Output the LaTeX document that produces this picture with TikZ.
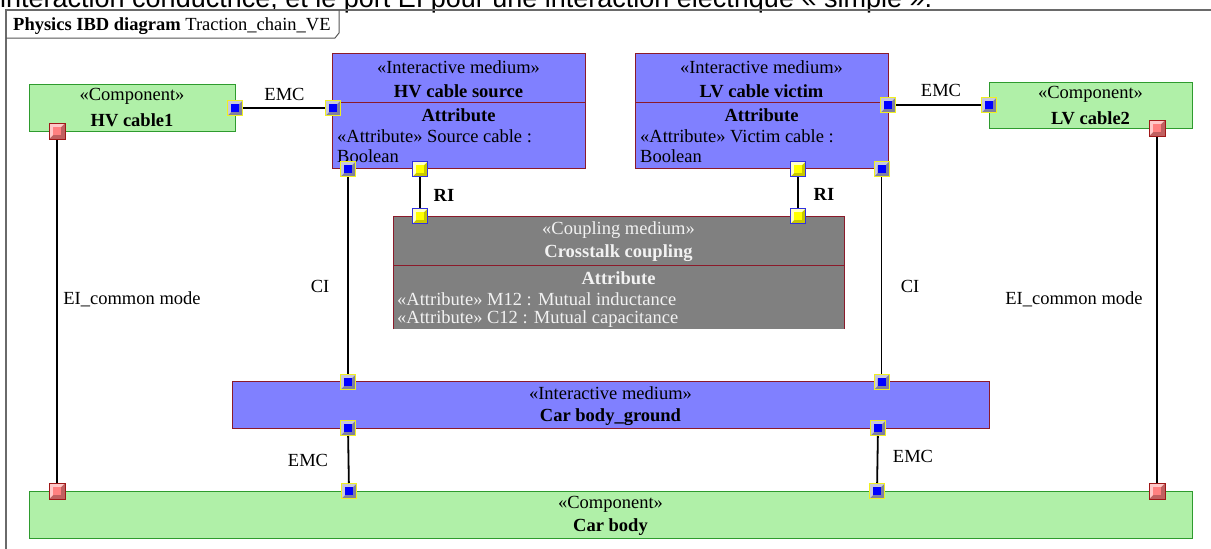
\documentclass[tikz,border=0pt]{standalone}
\usepackage{fontspec}
\setmainfont{Liberation Serif}
\newfontfamily\topfont{Liberation Sans}
\definecolor{cgreen}{HTML}{B0F0A8}
\definecolor{cgreenb}{HTML}{2E9B2E}
\definecolor{cblue}{HTML}{8080FF}
\definecolor{cred}{HTML}{8B1A2A}
\definecolor{cgray}{HTML}{808080}
\definecolor{cframe}{HTML}{6A6A6A}
\definecolor{ctxtlight}{HTML}{F2F2F2}
\definecolor{portyel}{HTML}{F0F020}
\definecolor{bluelight}{HTML}{C8C8DC}
\definecolor{bluedark}{HTML}{8080A0}
\definecolor{portblue}{HTML}{0000FF}
\definecolor{yelborder}{HTML}{3030E0}
\definecolor{yellight}{HTML}{FFFFC8}
\definecolor{yeldark}{HTML}{C8C800}
\definecolor{yelin}{HTML}{FFFF00}
\definecolor{redborder}{HTML}{A01818}
\definecolor{redlight}{HTML}{FFC8C8}
\definecolor{reddark}{HTML}{C06060}
\definecolor{redin}{HTML}{FF8080}
\tikzset{
  portbase/.style n args={4}{rectangle, inner sep=0pt, minimum size=15pt, line width=1pt, draw=#1, fill=#3,
    path picture={
      \coordinate (ppc) at (path picture bounding box.center);
      \fill[#2] (path picture bounding box.north west) -- (path picture bounding box.north east)
        -- ([shift={(4pt,4pt)}]ppc) -- ([shift={(-4pt,4pt)}]ppc) -- ([shift={(-4pt,-4pt)}]ppc)
        -- (path picture bounding box.south west) -- cycle;
      \fill[#4] ([shift={(-4pt,-4pt)}]ppc) rectangle ([shift={(4pt,4pt)}]ppc);}},
  bport/.style={portbase={portyel}{bluelight}{bluedark}{portblue}},
  yport/.style={portbase={yelborder}{yellight}{yeldark}{yelin}},
  rport/.style={portbase={redborder}{redlight}{reddark}{redin}, minimum size=16pt},
  comp/.style={rectangle, draw=cgreenb, fill=cgreen, line width=1pt, inner sep=0pt, anchor=north west},
  imed/.style={rectangle, draw=cred, fill=cblue, line width=1pt, inner sep=0pt, anchor=north west},
  txt/.style={inner sep=0pt},
  btxt/.style={inner sep=0pt, font=\fontsize{18.5}{22}\selectfont\bfseries},
  conn/.style={line width=1.8pt, black},
  divider/.style={cred, line width=1pt},
}
\begin{document}
\begin{tikzpicture}[x=1pt, y=-1pt, font=\fontsize{18.5}{22}\selectfont]
\useasboundingbox (0,0) rectangle (1211,549);
\clip (0,0) rectangle (1211,549);
\fill[white] (0,0) rectangle (1211,549);

% cut-off text line at the top
\node[anchor=base west, inner sep=0pt, font=\topfont\fontsize{27}{30}\selectfont] (note) at (0,7.3)
  {interaction conductrice, et le port EI pour une interaction électrique «~simple~».};

% frame
\draw[cframe, line width=1.5pt] (6,560) -- (6,10) -- (1220,10);
\draw[cframe!80!black, line width=1pt] (6,38) -- (335,38) -- (339,33) -- (339,10);
\node[anchor=base west, txt] (hdr) at (13,30.5) {\textbf{Physics IBD diagram} Traction\_chain\_VE};

% boxes
\node[comp, minimum width=206pt, minimum height=47pt] (hv1) at (29,84) {};
\node[txt] (hv1s) at (132,96) {«Component»};
\node[btxt] (hv1n) at (132,120) {HV cable1};

\node[comp, minimum width=203pt, minimum height=46pt] (lv2) at (989,82) {};
\node[txt] (lv2s) at (1090.5,94) {«Component»};
\node[btxt] (lv2n) at (1090.5,118) {LV cable2};

\node[imed, minimum width=253pt, minimum height=115pt] (hvs) at (332,53) {};
\draw[divider] (332,102) -- (585,102);
\node[txt] (hvss) at (458.5,67) {«Interactive medium»};
\node[btxt] (hvsn) at (458.5,91) {HV cable source};
\node[btxt] (hvsa) at (458.5,115) {Attribute};
\node[txt, anchor=west] (hvsa1) at (337,136) {«Attribute» Source cable :};
\node[txt, anchor=west] (hvsa2) at (337,156) {Boolean};

\node[imed, minimum width=253pt, minimum height=115pt] (lvv) at (635,53) {};
\draw[divider] (635,102) -- (888,102);
\node[txt] (lvvs) at (761.5,67) {«Interactive medium»};
\node[btxt] (lvvn) at (761.5,91) {LV cable victim};
\node[btxt] (lvva) at (761.5,115) {Attribute};
\node[txt, anchor=west] (lvva1) at (640,136) {«Attribute» Victim cable :};
\node[txt, anchor=west] (lvva2) at (640,156) {Boolean};

\node[rectangle, fill=cgray, inner sep=0pt, anchor=north west, minimum width=451pt, minimum height=113pt] (cpl) at (393,216) {};
\draw[cred, line width=1pt] (cpl.south west) -- (cpl.north west) -- (cpl.north east) -- (cpl.south east);
\draw[divider] (393,265) -- (844,265);
\node[txt, text=ctxtlight] (cpls) at (618.5,230) {«Coupling medium»};
\node[btxt, text=ctxtlight] (cpln) at (618.5,253) {Crosstalk coupling};
\node[btxt, text=ctxtlight] (cpla) at (618.5,278) {Attribute};
\node[txt, anchor=west, text=ctxtlight] (cpla1) at (397,299) {«Attribute» M12 : Mutual inductance};
\node[txt, anchor=west, text=ctxtlight] (cpla2) at (397,319) {«Attribute» C12 : Mutual capacitance};

\node[imed, minimum width=757pt, minimum height=47pt] (gnd) at (232,381) {};
\node[txt] (gnds) at (610.5,393) {«Interactive medium»};
\node[btxt] (gndn) at (610.5,417) {Car body\_ground};

\node[comp, minimum width=1163pt, minimum height=47pt] (car) at (29,491) {};
\node[txt] (cars) at (610.5,504) {«Component»};
\node[btxt] (carn) at (610.5,527) {Car body};

% ports
\node[bport] (phv1r) at (235,108) {};
\node[rport] (phv1e) at (57,131) {};
\node[bport] (phvsl) at (333,108) {};
\node[bport] (phvsb) at (348,169) {};
\node[yport] (phvsy) at (420,169) {};
\node[yport] (pcpll) at (420,216) {};
\node[yport] (pcplr) at (798,216) {};
\node[yport] (plvvy) at (798,169) {};
\node[bport] (plvvr) at (888,105) {};
\node[bport] (plvvb) at (881.5,169) {};
\node[bport] (plv2l) at (989,105) {};
\node[rport] (plv2e) at (1157,128) {};
\node[bport] (pgndtl) at (348,382) {};
\node[bport] (pgndtr) at (881.5,382) {};
\node[bport] (pgndbl) at (348,428) {};
\node[bport] (pgndbr) at (878,428) {};
\node[bport] (pcarl) at (349,491) {};
\node[bport] (pcarr) at (877,491) {};
\node[rport] (pcarel) at (57,491) {};
\node[rport] (pcarer) at (1157,491) {};

% connectors
\draw[conn] (phv1r) -- (phvsl);
\draw[conn] (plvvr) -- (plv2l);
\draw[conn] (phvsy) -- (pcpll);
\draw[conn] (plvvy) -- (pcplr);
\draw[conn] (phvsb) -- (pgndtl);
\draw[conn] (plvvb) -- (pgndtr);
\draw[conn] (phv1e) -- (pcarel);
\draw[conn] (plv2e) -- (pcarer);
\draw[conn] (pgndbl) -- (pcarl);
\draw[conn] (pgndbr) -- (pcarr);

% connector labels
\node[txt] (lemc1) at (284.5,94) {EMC};
\node[txt] (lemc2) at (941,90) {EMC};
\node[btxt] (lri1) at (444,195) {RI};
\node[btxt] (lri2) at (824,194) {RI};
\node[txt] (lci1) at (320,286) {CI};
\node[txt] (lci2) at (910,286) {CI};
\node[txt] (lei1) at (132,299) {EI\_common mode};
\node[txt] (lei2) at (1074,299) {EI\_common mode};
\node[txt] (lemc3) at (308,460) {EMC};
\node[txt] (lemc4) at (913,456) {EMC};
\end{tikzpicture}
\end{document}
